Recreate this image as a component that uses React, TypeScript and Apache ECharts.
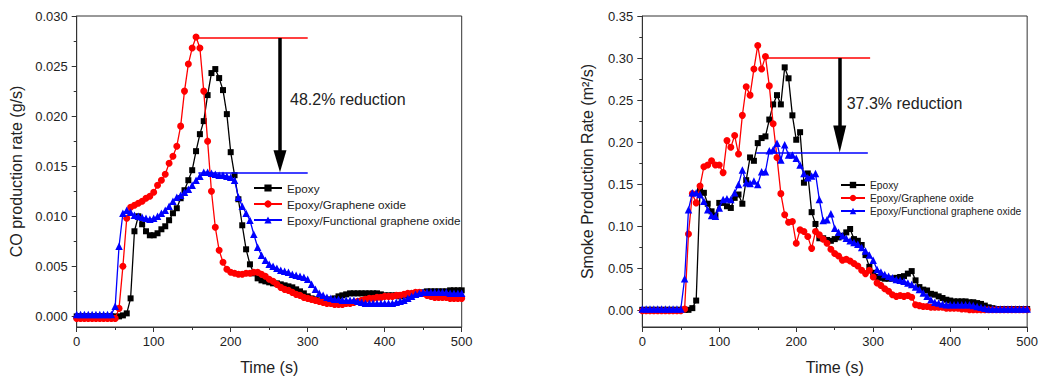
import React, { useEffect, useRef } from "react";
import * as echarts from "echarts";

// Sampling times (s), one reading every 5 s from 0 to 500
const TIME: number[] = Array.from({ length: 101 }, (_, i) => i * 5);

const SERIES_NAMES = ["Epoxy", "Epoxy/Graphene oxide", "Epoxy/Functional graphene oxide"];

// ---- CO production rate (g/s)
const CO_EPOXY = [
  0, 0, 0, 0, 0, 0, 0, 0, 0, 0, 0, 0,
  0.0001, 0.0003, 0.0018, 0.0085, 0.0100,
  0.0092, 0.0085, 0.0081, 0.0081, 0.0083,
  0.0087, 0.0090, 0.0096, 0.0103, 0.0108,
  0.0118, 0.0126, 0.0136, 0.0146, 0.0165,
  0.0182, 0.0195, 0.0221, 0.0243, 0.0247,
  0.0238, 0.0226, 0.0202, 0.0164, 0.0141,
  0.0117, 0.0091, 0.0067, 0.0052, 0.0043,
  0.0038, 0.0036, 0.0035, 0.0034, 0.0033,
  0.0033, 0.0032, 0.0031, 0.0030, 0.0029,
  0.0027, 0.0025, 0.0023, 0.0020, 0.0018,
  0.0017, 0.0016, 0.0016, 0.0016, 0.0017,
  0.0018, 0.0020, 0.0021, 0.0022, 0.0023,
  0.0023, 0.0023, 0.0023, 0.0023, 0.0023,
  0.0023, 0.0023, 0.0022, 0.0021, 0.0021,
  0.0021, 0.0021, 0.0020, 0.0021, 0.0021,
  0.0022, 0.0022, 0.0023, 0.0024, 0.0025,
  0.0025, 0.0025, 0.0025, 0.0025, 0.0025,
  0.0026, 0.0026, 0.0026, 0.0026,
];
const CO_GO = [
  -0.0002, -0.0002, -0.0002, -0.0002, -0.0002, -0.0002, -0.0002, -0.0002, -0.0002, -0.0002, -0.0002,
  0.0008,
  0.0050, 0.0098, 0.0109, 0.0111, 0.0113,
  0.0115, 0.0118, 0.0120, 0.0124, 0.0131,
  0.0136, 0.0142, 0.0153, 0.0160, 0.0170,
  0.0190, 0.0225, 0.0252, 0.0268, 0.0279,
  0.0268, 0.0225, 0.0175, 0.0125, 0.0089,
  0.0066, 0.0054, 0.0047, 0.0044, 0.0043,
  0.0042, 0.0042, 0.0043, 0.0043, 0.0044,
  0.0044, 0.0042, 0.0040, 0.0037, 0.0035,
  0.0032, 0.0029, 0.0027, 0.0026, 0.0024,
  0.0022, 0.0021, 0.0019, 0.0018, 0.0017,
  0.0016, 0.0015, 0.0014, 0.0013, 0.0013,
  0.0012, 0.0012, 0.0012, 0.0013, 0.0013,
  0.0014, 0.0015, 0.0016, 0.0017, 0.0018,
  0.0018, 0.0019, 0.0019, 0.0020, 0.0020,
  0.0020, 0.0021, 0.0021, 0.0022, 0.0023,
  0.0023, 0.0024, 0.0024, 0.0023, 0.0021,
  0.0020, 0.0019, 0.0019, 0.0019, 0.0019,
  0.0018, 0.0018, 0.0018, 0.0018,
];
const CO_FGO = [
  0.0002, 0.0002, 0.0002, 0.0002, 0.0002, 0.0002, 0.0002, 0.0002, 0.0002, 0.0002,
  0.0010, 0.0070,
  0.0103, 0.0106, 0.0104, 0.0101, 0.0100,
  0.0099, 0.0098, 0.0097, 0.0098, 0.0100,
  0.0103, 0.0106, 0.0110, 0.0115, 0.0119,
  0.0121, 0.0124, 0.0127, 0.0131, 0.0136,
  0.0140, 0.0144, 0.0144, 0.0143, 0.0142,
  0.0141, 0.0141, 0.0140, 0.0139, 0.0136,
  0.0119, 0.0110, 0.0103, 0.0096, 0.0082,
  0.0069, 0.0061, 0.0056, 0.0052, 0.0050,
  0.0048, 0.0046, 0.0045, 0.0044, 0.0042,
  0.0041, 0.0040, 0.0039, 0.0037, 0.0032,
  0.0027, 0.0023, 0.0021, 0.0019, 0.0018,
  0.0017, 0.0017, 0.0016, 0.0016, 0.0016,
  0.0016, 0.0015, 0.0014, 0.0013, 0.0013,
  0.0013, 0.0013, 0.0013, 0.0013, 0.0013,
  0.0013, 0.0014, 0.0015, 0.0016, 0.0018,
  0.0020, 0.0022, 0.0023, 0.0024, 0.0024,
  0.0024, 0.0024, 0.0024, 0.0024, 0.0024,
  0.0023, 0.0023, 0.0023, 0.0023,
];

// ---- Smoke production rate (m²/s)
const SPR_EPOXY = [
  0.001, 0.001, 0.001, 0.001, 0.001, 0.001, 0.001, 0.001, 0.001, 0.001, 0.001, 0.001, 0.001,
  0.003, 0.012,
  0.143, 0.140, 0.127, 0.118, 0.113,
  0.128, 0.128, 0.124, 0.122, 0.134,
  0.138, 0.127, 0.155, 0.182, 0.178,
  0.199, 0.205, 0.207, 0.227, 0.245,
  0.256, 0.245, 0.289, 0.276, 0.232,
  0.203, 0.212, 0.152, 0.163, 0.117,
  0.103, 0.086, 0.086, 0.084, 0.083,
  0.085, 0.087, 0.089, 0.093, 0.097,
  0.085, 0.083, 0.078, 0.066, 0.052,
  0.045, 0.040, 0.039, 0.038, 0.038,
  0.038, 0.039, 0.040, 0.041, 0.044,
  0.047, 0.036, 0.028, 0.025, 0.024,
  0.020, 0.019, 0.017, 0.015, 0.013,
  0.012, 0.011, 0.011, 0.011, 0.011,
  0.010, 0.010, 0.009, 0.008, 0.006,
  0.004, 0.003, 0.002, 0.002, 0.002,
  0.002, 0.002, 0.002, 0.002, 0.002, 0.002,
];
const SPR_GO = [
  0, 0, 0, 0, 0, 0, 0, 0, 0, 0, 0,
  0.002,
  0.091, 0.139, 0.128, 0.148, 0.171,
  0.173, 0.178, 0.173, 0.173, 0.164,
  0.202, 0.194, 0.208, 0.186, 0.232,
  0.266, 0.256, 0.287, 0.315, 0.287,
  0.302, 0.267, 0.222, 0.182, 0.139,
  0.114, 0.105, 0.106, 0.080, 0.096,
  0.094, 0.088, 0.074, 0.094, 0.090,
  0.085, 0.080, 0.073, 0.068, 0.065,
  0.060, 0.061, 0.059, 0.056, 0.053,
  0.048, 0.044, 0.048, 0.040, 0.033,
  0.030, 0.026, 0.023, 0.019, 0.017,
  0.018, 0.017, 0.018, 0.016, 0.007,
  0.006, 0.005, 0.005, 0.004, 0.004,
  0.004, 0.004, 0.003, 0.003, 0.003,
  0.003, 0.002, 0.002, 0.001, 0.001,
  0.001, 0.001, 0.001, 0.001, 0.001, 0.001, 0.001,
  0.001, 0.001, 0.001, 0.001, 0.001, 0.001, 0.001,
];
const SPR_FGO = [
  0.002, 0.002, 0.002, 0.002, 0.002, 0.002, 0.002, 0.002, 0.002, 0.002, 0.002,
  0.038,
  0.120, 0.140, 0.140, 0.138, 0.130,
  0.120, 0.113, 0.112, 0.122, 0.132,
  0.133, 0.132, 0.140, 0.150, 0.167,
  0.152, 0.151, 0.154, 0.150, 0.165,
  0.165, 0.190, 0.191, 0.199, 0.179,
  0.197, 0.185, 0.185, 0.181, 0.173,
  0.163, 0.158, 0.160, 0.163, 0.132,
  0.107, 0.108, 0.115, 0.098, 0.093,
  0.089, 0.086, 0.083, 0.081, 0.079,
  0.075, 0.071, 0.066, 0.060, 0.049,
  0.046, 0.043, 0.041, 0.039, 0.037,
  0.036, 0.035, 0.033, 0.031, 0.028,
  0.025, 0.021, 0.017, 0.013, 0.010,
  0.009, 0.008, 0.007, 0.007, 0.007,
  0.007, 0.007, 0.007, 0.007, 0.006,
  0.005, 0.004, 0.003, 0.002, 0.002,
  0.002, 0.002, 0.002, 0.002, 0.002, 0.002, 0.002, 0.002, 0.002,
];

// Axis ticks
const X_TICKS = [0, 100, 200, 300, 400, 500];
const CO_TICKS = [0, 0.005, 0.01, 0.015, 0.02, 0.025, 0.03];
const CO_MINOR = [0.0025, 0.0075, 0.0125, 0.0175, 0.0225, 0.0275];
const SPR_TICKS = [0, 0.05, 0.1, 0.15, 0.2, 0.25, 0.3, 0.35];
const SPR_MINOR = [0.025, 0.075, 0.125, 0.175, 0.225, 0.275, 0.325];

// Annotations: [startTime, endTime, value] for reference lines, [time, from, to] for arrow
const CO_PEAK_GO = [156, 300, 0.0278];
const CO_PEAK_FGO = [158, 300, 0.0143];
const CO_ARROW = [264, 0.0278, 0.0155];
const CO_TEXT = "48.2% reduction";
const SPR_PEAK_GO = [161, 296, 0.3];
const SPR_PEAK_FGO = [148, 293, 0.188];
const SPR_ARROW = [256.5, 0.3, 0.204];
const SPR_TEXT = "37.3% reduction";

const FONT = '"Liberation Sans", Arial, Helvetica, sans-serif';
const TXT = "#222";
const AX = "#333";
const COLORS = ["#000000", "#ff0000", "#0000ff"];
const SYMBOLS = ["rect", "circle", "triangle"];
const SYMBOL_SIZES = [6, 7, 7.5];

function pairs(vals: number[]) {
  return TIME.map((t, i) => [t, vals[i]]);
}

function xAxisFor(gridIndex: number) {
  return {
    gridIndex,
    type: "value",
    min: 0,
    max: 500,
    interval: 100,
    name: "Time (s)",
    nameLocation: "middle",
    nameGap: 32,
    nameTextStyle: { fontSize: 16, fontFamily: FONT, color: TXT },
    axisLine: { show: true, onZero: false, lineStyle: { color: AX, width: 1 } },
    axisTick: { show: true, length: 5, lineStyle: { color: AX } },
    minorTick: { show: true, splitNumber: 2, length: 3, lineStyle: { color: AX } },
    axisLabel: { fontSize: 13, fontFamily: FONT, color: TXT, margin: 8 },
    splitLine: { show: false },
  };
}

function yAxesFor(gridIndex: number, min: number, max: number, ticks: number[], minor: number[], name: string, nameGap: number, digits: number) {
  return [
    {
      gridIndex,
      type: "value",
      position: "left",
      min,
      max,
      name,
      nameLocation: "middle",
      nameGap,
      nameTextStyle: { fontSize: 16, fontFamily: FONT, color: TXT },
      axisLine: { show: true, onZero: false, lineStyle: { color: AX, width: 1 } },
      axisTick: { show: true, length: 5, customValues: ticks, lineStyle: { color: AX } },
      axisLabel: {
        customValues: ticks,
        fontSize: 13,
        fontFamily: FONT,
        color: TXT,
        margin: 9,
        formatter: (v: number) => v.toFixed(digits),
      },
      splitLine: { show: false },
    },
    {
      gridIndex,
      type: "value",
      position: "left",
      min,
      max,
      axisLine: { show: false, onZero: false },
      axisTick: { show: true, length: 3, customValues: minor, lineStyle: { color: AX } },
      axisLabel: { show: false },
      splitLine: { show: false },
    },
  ];
}

function refLine(a: number[], color: string) {
  return [
    { coord: [a[0], a[2]], symbol: "none", lineStyle: { color, width: 1.5, type: "solid" } },
    { coord: [a[1], a[2]], symbol: "none" },
  ];
}

function arrow(a: number[], headH: number) {
  return [
    { coord: [a[0], a[1]], symbol: "none", lineStyle: { color: "#000", width: 3.5, type: "solid" } },
    { coord: [a[0], a[2]], symbol: "triangle", symbolSize: [13, headH] },
  ];
}

function seriesFor(panel: number, values: number[][], marks: any[]) {
  return values.map((vals, k) => ({
    type: "line",
    name: SERIES_NAMES[k],
    xAxisIndex: panel,
    yAxisIndex: panel * 2,
    data: pairs(vals),
    symbol: SYMBOLS[k],
    symbolSize: SYMBOL_SIZES[k],
    showSymbol: true,
    lineStyle: { color: COLORS[k], width: 1.3 },
    itemStyle: { color: COLORS[k] },
    emphasis: { disabled: true },
    z: 2 + k,
    markLine:
      k === 0
        ? {
            silent: true,
            symbol: ["none", "none"],
            label: { show: false },
            emphasis: { disabled: true },
            data: marks,
          }
        : undefined,
  }));
}

export default function App() {
  const ref = useRef<HTMLDivElement>(null);
  useEffect(() => {
    if (!ref.current) return;
    const chart = echarts.init(ref.current, undefined, { renderer: "svg" });
    const option: any = {
      animation: false,
      backgroundColor: "#ffffff",
      textStyle: { fontFamily: FONT },
      grid: [
        { left: 76.7, top: 16, width: 385, height: 312.3, show: true, borderColor: AX, borderWidth: 1 },
        { left: 642.3, top: 16, width: 385.4, height: 311.3, show: true, borderColor: AX, borderWidth: 1 },
      ],
      xAxis: [xAxisFor(0), xAxisFor(1)],
      yAxis: [
        ...yAxesFor(0, -0.00106, 0.03, CO_TICKS, CO_MINOR, "CO production rate (g/s)", 52, 3),
        ...yAxesFor(1, -0.0194, 0.35, SPR_TICKS, SPR_MINOR, "Smoke Production Rate (m²/s)", 47, 2),
      ],
      legend: [
        {
          left: 253,
          top: 182,
          padding: 0,
          orient: "vertical",
          itemWidth: 28,
          itemHeight: 9,
          itemGap: 4,
          textStyle: { fontSize: 11.7, fontFamily: FONT, color: TXT },
          data: SERIES_NAMES,
          selectedMode: false,
        },
        {
          left: 840,
          top: 180,
          padding: 0,
          orient: "vertical",
          itemWidth: 24,
          itemHeight: 8,
          itemGap: 3,
          textStyle: { fontSize: 10.2, fontFamily: FONT, color: TXT },
          data: SERIES_NAMES,
          selectedMode: false,
        },
      ],
      graphic: [
        { type: "text", x: 290, y: 99, style: { text: CO_TEXT, fontSize: 16, fontFamily: FONT, fill: TXT, verticalAlign: "middle" } },
        { type: "text", x: 846.7, y: 103.3, style: { text: SPR_TEXT, fontSize: 16, fontFamily: FONT, fill: TXT, verticalAlign: "middle" } },
      ],
      series: [
        ...seriesFor(0, [CO_EPOXY, CO_GO, CO_FGO], [
          refLine(CO_PEAK_GO, "#ff0000"),
          refLine(CO_PEAK_FGO, "#0000ff"),
          arrow(CO_ARROW, 22),
        ]),
        ...seriesFor(1, [SPR_EPOXY, SPR_GO, SPR_FGO], [
          refLine(SPR_PEAK_GO, "#ff0000"),
          refLine(SPR_PEAK_FGO, "#0000ff"),
          arrow(SPR_ARROW, 27),
        ]),
      ],
    };
    chart.setOption(option);
    return () => chart.dispose();
  }, []);
  return (
    <div
      ref={ref}
      style={{ position: "fixed", left: 0, top: 0, width: 1041, height: 380, background: "#fff" }}
    />
  );
}
